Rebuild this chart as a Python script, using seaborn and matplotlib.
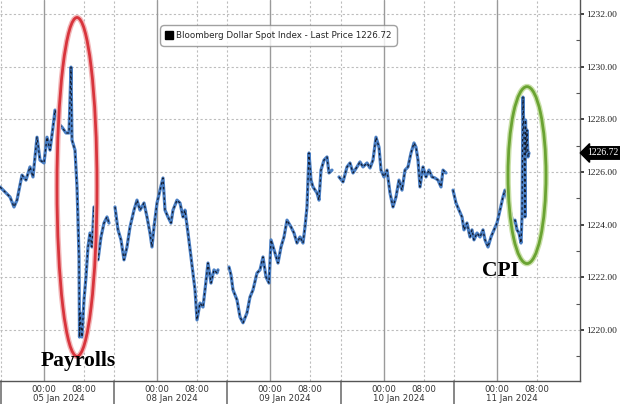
import matplotlib
matplotlib.use("Agg")
import matplotlib.pyplot as plt
from matplotlib.patches import Ellipse
from matplotlib.lines import Line2D
import matplotlib.transforms as mtransforms
import seaborn as sns
import pandas as pd

# ---- data (hours since chart start, price) ----
s1_t = [0.0, 1.0, 2.0, 2.8, 3.4, 4.4, 5.2, 6.0, 6.6, 7.4, 8.0, 8.8, 9.4, 10.0, 10.6, 11.0, 11.6, 12.4, 13.2, 13.8,
        14.0, 14.2, 14.4, 15.0, 15.4, 15.6, 15.8, 15.9, 16.0, 16.4, 16.8, 17.2, 17.6, 18.0, 18.4, 18.8, 19.2, 19.6,
        20.2, 20.8, 21.4, 21.8]
s1_p = [1225.43, 1225.24, 1225.05, 1224.67, 1224.93, 1225.88, 1225.69, 1226.19, 1225.81, 1227.32, 1226.45, 1226.34,
        1227.32, 1226.83, 1227.70, 1228.35, 1227.86, 1227.70, 1227.48, 1227.48, 1228.73, 1229.98, 1227.21, 1226.83,
        1225.43, 1224.17, 1222.77, 1219.73, 1220.65, 1219.73, 1221.14, 1222.01, 1223.15, 1223.68, 1223.15, 1224.67,
        1223.68, 1222.66, 1223.53, 1224.06, 1224.29, 1224.06]
s2_t = [23.0, 23.6, 24.2, 24.8, 25.4, 26.0, 26.8, 27.4, 28.0, 28.8, 29.4, 30.0, 30.4, 30.8, 31.4, 32.0, 32.6, 33.0,
        33.6, 34.2, 34.6, 35.4, 36.0, 36.6, 37.0, 37.6, 38.2, 39.0, 39.4, 40.0, 40.6, 41.0, 41.6, 42.2, 42.8, 43.4, 43.6]
s2_p = [1224.67, 1223.80, 1223.42, 1222.66, 1223.15, 1223.91, 1224.55, 1224.93, 1224.55, 1224.82, 1224.29, 1223.68,
        1223.15, 1223.91, 1224.82, 1225.31, 1225.77, 1224.55, 1224.29, 1224.06, 1224.55, 1224.93, 1224.82, 1224.29,
        1224.55, 1223.68, 1222.77, 1221.52, 1220.38, 1221.02, 1220.87, 1221.52, 1222.54, 1221.78, 1222.28, 1222.16,
        1222.28]
s3_t = [45.8, 46.2, 46.6, 47.4, 48.0, 48.6, 49.4, 50.0, 50.6, 51.4, 52.0, 52.6, 53.2, 53.8, 54.2, 55.0, 55.6, 56.2,
        56.8, 57.4, 58.2, 58.8, 59.4, 60.0, 60.6, 61.0, 61.4, 61.8, 62.2, 62.6, 63.4, 63.8, 64.2, 64.8, 65.4, 65.8, 66.4]
s3_p = [1222.39, 1222.09, 1221.52, 1221.14, 1220.49, 1220.27, 1220.65, 1221.25, 1221.52, 1222.16, 1222.28, 1222.77,
        1222.01, 1221.78, 1223.42, 1222.92, 1222.54, 1223.15, 1223.53, 1224.17, 1223.91, 1223.68, 1223.30, 1223.53,
        1223.30, 1223.91, 1224.67, 1226.72, 1225.69, 1225.43, 1225.20, 1224.93, 1226.07, 1226.45, 1226.57, 1225.96,
        1226.07]
s4_t = [67.8, 68.6, 69.4, 70.0, 70.6, 71.4, 72.0, 72.6, 73.4, 74.0, 74.6, 75.2, 75.8, 76.2, 76.8, 77.4, 78.0, 78.6,
        79.2, 79.8, 80.4, 81.0, 81.6, 82.2, 82.8, 83.2, 83.6, 84.0, 84.6, 85.2, 85.8, 86.4, 87.0, 87.6, 88.2, 88.6, 89.2]
s4_p = [1225.81, 1225.62, 1226.19, 1226.34, 1225.96, 1226.19, 1226.38, 1226.19, 1226.34, 1226.15, 1226.45, 1227.32,
        1226.94, 1226.07, 1225.81, 1226.07, 1225.20, 1224.67, 1225.05, 1225.69, 1225.31, 1226.07, 1226.19, 1226.72,
        1227.10, 1226.94, 1226.45, 1225.43, 1226.19, 1225.81, 1226.07, 1225.81, 1225.77, 1225.69, 1225.43, 1226.07,
        1225.96]
s5_t = [90.6, 91.2, 91.8, 92.4, 92.8, 93.4, 94.0, 94.4, 94.8, 95.4, 96.0, 96.6, 97.0, 97.6, 98.2, 98.8, 99.4, 100.0,
        100.6, 101.0, 101.4, 102.0, 102.6, 103.0, 103.4, 103.8, 104.2, 104.4, 104.6, 104.8, 105.0, 105.1, 105.2, 105.4,
        105.6, 105.8]
s5_p = [1225.31, 1224.82, 1224.55, 1224.29, 1223.80, 1224.06, 1223.53, 1223.80, 1223.42, 1223.68, 1223.53, 1223.80,
        1223.42, 1223.15, 1223.53, 1223.80, 1224.06, 1224.55, 1225.05, 1225.31, 1225.05, 1224.55, 1224.06, 1224.17,
        1223.80, 1223.68, 1223.30, 1224.29, 1228.84, 1227.32, 1224.29, 1227.97, 1226.72, 1227.59, 1226.57, 1226.72]

day_labels = ["05 Jan 2024", "08 Jan 2024", "09 Jan 2024", "10 Jan 2024", "11 Jan 2024"]
midnight_h = [8.8, 31.4, 54.0, 76.8, 99.4]
y_ticks = [1220, 1222, 1224, 1226, 1228, 1230, 1232]
last_price = 1226.72
legend_label = "Bloomberg Dollar Spot Index - Last Price 1226.72"

frames = []
for i, (t, p) in enumerate([(s1_t, s1_p), (s2_t, s2_p), (s3_t, s3_p), (s4_t, s4_p), (s5_t, s5_p)]):
    frames.append(pd.DataFrame({"t": t, "price": p, "session": i}))
df = pd.concat(frames, ignore_index=True)

sns.set_style("white")
plt.rcParams["font.family"] = ["DejaVu Sans"]

fig = plt.figure(figsize=(6.2, 4.04), dpi=100)
ax = fig.add_axes([0.0, 23 / 404, 580 / 620, 381 / 404])

# grid
grid_col = "#bdbdbd"
for y in y_ticks:
    ax.axhline(y, color=grid_col, lw=0.8, ls=(0, (2, 2)), zorder=0)
for m in midnight_h:
    ax.axvline(m, color="#9a9a9a", lw=1.0, zorder=0)
    ax.axvline(m + 8, color=grid_col, lw=0.8, ls=(0, (2, 2)), zorder=0)
    ax.axvline(m - 8.6, color=grid_col, lw=0.8, ls=(0, (2, 2)), zorder=0)

sns.lineplot(data=df, x="t", y="price", units="session", estimator=None, color="#4a7fc4", lw=2.3, ax=ax,
             zorder=3, legend=False)
sns.lineplot(data=df, x="t", y="price", units="session", estimator=None, color="#141c2e", lw=0.9, ax=ax,
             zorder=4, legend=False, linestyle=(0, (2.0, 2.2)))

ax.set_xlim(0, 116)
ax.set_ylim(1218.06, 1232.53)
ax.set_xlabel("")
ax.set_ylabel("")

# spines
for s in ["top", "left"]:
    ax.spines[s].set_visible(False)
ax.spines["right"].set_color("#555555")
ax.spines["bottom"].set_color("#555555")
ax.spines["right"].set_linewidth(1.0)
ax.spines["bottom"].set_linewidth(1.0)

# y axis on right
ax.yaxis.tick_right()
ax.set_yticks(y_ticks)
ax.set_yticklabels([f"{v:.2f}" for v in y_ticks], family="Liberation Serif", fontsize=6.8, color="#222222")
ax.set_yticks([v + 1 for v in y_ticks[:-1]] + [1219], minor=True)
ax.tick_params(axis="y", which="major", direction="out", length=3, width=1.2, color="#222222", pad=1.5)
ax.tick_params(axis="y", which="minor", direction="in", length=3, width=0.8, color="#555555", right=True)

# x axis ticks
xt = []
xl = []
for m in midnight_h:
    xt += [m, m + 8]
    xl += ["00:00", "08:00"]
ax.set_xticks(xt)
ax.set_xticklabels(xl, fontsize=6.2, color="#333333")
ax.tick_params(axis="x", which="major", length=2, color="#555555", pad=1.2)

trans = ax.get_xaxis_transform()
for m, lab in zip(midnight_h, day_labels):
    ax.text(m + 3.0, -0.045, lab, transform=trans, ha="center", va="center", fontsize=6.2, color="#333333")
    ax.plot([m - 8.6, m - 8.6], [0, -0.07], transform=trans, color="#666666", lw=1.1, clip_on=False)

# legend
handle = Line2D([], [], marker="s", color="black", ls="none", markersize=6)
leg = ax.legend([handle], [legend_label], loc="upper left", bbox_to_anchor=(162 / 580, 1 - 27 / 381),
                fontsize=6.3, frameon=True, fancybox=True, handlelength=0.8, handletextpad=0.3,
                borderpad=0.45, borderaxespad=0)
leg.get_frame().set_edgecolor("#8a8a8a")
leg.get_frame().set_linewidth(1.0)
leg.get_frame().set_boxstyle("round,pad=0.2,rounding_size=0.4")

# last price tag
ytrans = mtransforms.blended_transform_factory(ax.transAxes, ax.transData)
ax.text(1.012, last_price, f"{last_price:.2f}", transform=ytrans, ha="left", va="center", fontsize=7.0,
        family="Liberation Serif", color="white",
        bbox=dict(boxstyle="larrow,pad=0.18", fc="black", ec="black"), clip_on=False)

# annotation ellipses
ax.add_patch(Ellipse((15.4, 1225.43), 8.0, 12.87, fill=False, ec="#f2b6b8", lw=4.0, zorder=5))
ax.add_patch(Ellipse((15.4, 1225.43), 8.0, 12.87, fill=False, ec="#d8343c", lw=2.0, zorder=6))
ax.add_patch(Ellipse((105.4, 1225.88), 7.6, 6.72, fill=False, ec="#c9e0a8", lw=4.0, zorder=5))
ax.add_patch(Ellipse((105.4, 1225.88), 7.6, 6.72, fill=False, ec="#6aa332", lw=2.0, zorder=6))

ax.text(15.6, 1218.82, "Payrolls", ha="center", va="center", fontsize=15.5, fontweight="bold",
        family="Liberation Serif", color="black", zorder=7)
ax.text(100.0, 1222.24, "CPI", ha="center", va="center", fontsize=15.5, fontweight="bold",
        family="Liberation Serif", color="black", zorder=7)

fig.savefig("out.png", dpi=100, facecolor="white")
